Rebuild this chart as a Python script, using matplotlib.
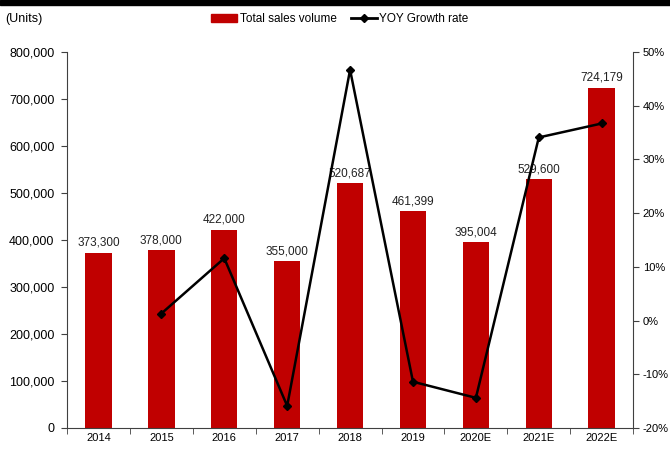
import numpy as np
import matplotlib.pyplot as plt
from matplotlib.ticker import FuncFormatter, FixedLocator
from matplotlib.patches import Rectangle
from matplotlib.lines import Line2D

plt.rcParams['font.family'] = ['Liberation Sans', 'DejaVu Sans']
plt.rcParams['font.size'] = 8

years = ['2014', '2015', '2016', '2017', '2018', '2019', '2020E', '2021E', '2022E']
sales = [373300, 378000, 422000, 355000, 520687, 461399, 395004, 529600, 724179]
growth_years = years[1:]
growth = [1.3, 11.6, -15.9, 46.7, -11.4, -14.4, 34.1, 36.7]

bar_color = '#C00000'
spine_color = '#404040'

fig = plt.figure(figsize=(6.7, 4.49), dpi=100)
ax = fig.add_axes([0.1, 0.047, 0.845, 0.837])

xpos = np.arange(len(years))
ax.bar(xpos, sales, width=0.42, color=bar_color, zorder=2)
for xi, v in zip(xpos, sales):
    ax.text(xi, v + 8000, '{:,}'.format(v), ha='center', va='bottom', fontsize=8.5, color='#222222')

ax.set_xlim(-0.5, len(years) - 0.5)
ax.set_ylim(0, 800000)
ax.set_yticks(np.arange(0, 800001, 100000))
ax.yaxis.set_major_formatter(FuncFormatter(lambda v, p: '{:,}'.format(int(v))))
ax.set_xticks(xpos)
ax.set_xticklabels(years)
ax.tick_params(axis='x', length=0, pad=4)
ax.xaxis.set_minor_locator(FixedLocator(np.arange(-0.5, len(years), 1)))
ax.tick_params(axis='x', which='minor', length=4, color=spine_color, direction='out')
ax.tick_params(axis='y', length=4, color=spine_color, pad=5, labelsize=9)
for s in ['top', 'right']:
    ax.spines[s].set_visible(False)
for s in ['left', 'bottom']:
    ax.spines[s].set_color(spine_color)

ax2 = ax.twinx()
ax2.plot(xpos[1:], growth, color='black', lw=1.8, marker='D', ms=4.5, zorder=3)
ax2.set_ylim(-20, 50)
ax2.set_yticks(np.arange(-20, 51, 10))
ax2.yaxis.set_major_formatter(FuncFormatter(lambda v, p: '%d%%' % v))
ax2.tick_params(axis='y', length=4, color=spine_color, pad=3, labelsize=8)
for s in ['top', 'left', 'bottom']:
    ax2.spines[s].set_visible(False)
ax2.spines['right'].set_color(spine_color)

# black band across the top edge
fig.patches.append(Rectangle((0, 0.988), 1, 0.012, transform=fig.transFigure,
                             color='black', zorder=10))
fig.text(0.008, 0.958, '(Units)', fontsize=9, va='center', ha='left')

handles = [Rectangle((0, 0), 1, 1, color=bar_color),
           Line2D([0], [0], color='black', lw=2, marker='D', ms=4)]
fig.legend(handles, ['Total sales volume', 'YOY Growth rate'], loc='center',
           bbox_to_anchor=(0.507, 0.957), ncol=2, frameon=False, fontsize=8.5,
           handlelength=2.2, handleheight=0.6, columnspacing=1.2, handletextpad=0.2)

fig.savefig('out.png', dpi=100)
